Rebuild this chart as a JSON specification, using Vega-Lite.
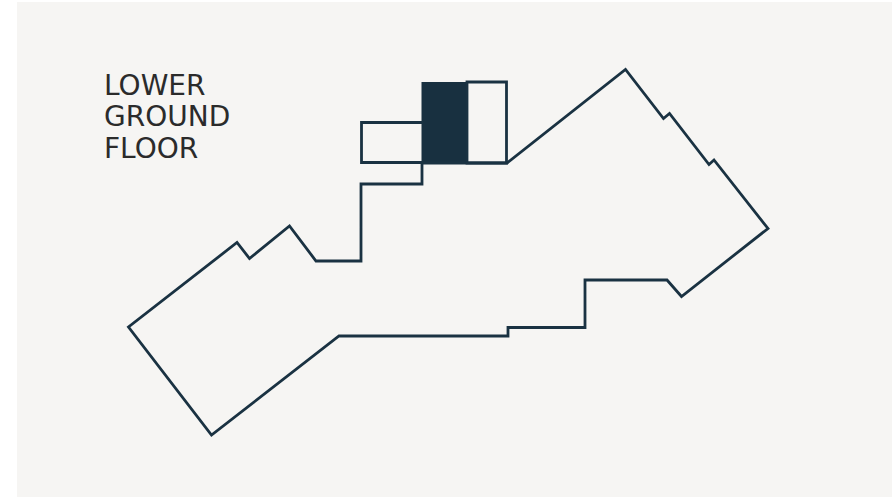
{"$schema":"https://vega.github.io/schema/vega-lite/v6.json","width":892,"height":497,"autosize":{"type":"fit","contains":"padding"},"padding":0,"background":"#ffffff","view":{"stroke":null},
"config":{"axis":{"disable":true}},
"layer":[
{"data":{"values":[{"x0":17,"x1":892,"y0":2,"y1":497}]},"mark":{"type":"rect","color":"#f6f5f3"},"encoding":{"x":{"field":"x0","type":"quantitative","scale":{"domain":[0,892],"nice":false,"zero":false},"axis":null},"x2":{"field":"x1"},"y":{"field":"y0","type":"quantitative","scale":{"domain":[497,0],"nice":false,"zero":false},"axis":null},"y2":{"field":"y1"}}},
{"data":{"values":[{"x0":421.5,"x1":467,"y0":82,"y1":164}]},"mark":{"type":"rect","color":"#183040"},"encoding":{"x":{"field":"x0","type":"quantitative","axis":null},"x2":{"field":"x1"},"y":{"field":"y0","type":"quantitative","axis":null},"y2":{"field":"y1"}}},
{"data":{"values":[
{"s":"outline","i":0,"x":422,"y":163},{"s":"outline","i":1,"x":422,"y":184},{"s":"outline","i":2,"x":361,"y":184},{"s":"outline","i":3,"x":361,"y":261},{"s":"outline","i":4,"x":316,"y":261},{"s":"outline","i":5,"x":289.5,"y":226},{"s":"outline","i":6,"x":249.5,"y":258.5},{"s":"outline","i":7,"x":237,"y":242.5},{"s":"outline","i":8,"x":128.5,"y":327},{"s":"outline","i":9,"x":211.5,"y":435},{"s":"outline","i":10,"x":339,"y":336},{"s":"outline","i":11,"x":508,"y":336},{"s":"outline","i":12,"x":508,"y":327.5},{"s":"outline","i":13,"x":585,"y":327.5},{"s":"outline","i":14,"x":585,"y":280},{"s":"outline","i":15,"x":667,"y":280},{"s":"outline","i":16,"x":681.5,"y":296.5},{"s":"outline","i":17,"x":768,"y":228.5},{"s":"outline","i":18,"x":714,"y":160},{"s":"outline","i":19,"x":709,"y":164.5},{"s":"outline","i":20,"x":669.5,"y":113.5},{"s":"outline","i":21,"x":663.5,"y":118.5},{"s":"outline","i":22,"x":625.5,"y":69.5},{"s":"outline","i":23,"x":507,"y":163},{"s":"outline","i":24,"x":422,"y":163},
{"s":"right","i":0,"x":467,"y":82},{"s":"right","i":1,"x":506.5,"y":82},{"s":"right","i":2,"x":506.5,"y":163},{"s":"right","i":3,"x":467,"y":163},{"s":"right","i":4,"x":467,"y":82},
{"s":"left","i":0,"x":422,"y":122.5},{"s":"left","i":1,"x":361.5,"y":122.5},{"s":"left","i":2,"x":361.5,"y":162.5},{"s":"left","i":3,"x":422,"y":162.5}
]},"mark":{"type":"line","stroke":"#1a3242","strokeWidth":2.8,"strokeJoin":"miter","strokeCap":"square","interpolate":"linear"},"encoding":{"x":{"field":"x","type":"quantitative","axis":null},"y":{"field":"y","type":"quantitative","axis":null},"detail":{"field":"s"},"order":{"field":"i","type":"quantitative"}}},
{"data":{"values":[{"t":"LOWER","x":104,"y":94.5},{"t":"GROUND","x":104,"y":126},{"t":"FLOOR","x":104,"y":157.5}]},"mark":{"type":"text","align":"left","baseline":"alphabetic","font":"DejaVu Sans ExtraLight, DejaVu Sans","fontSize":28,"color":"#2b2b2b"},"encoding":{"x":{"field":"x","type":"quantitative","axis":null},"y":{"field":"y","type":"quantitative","axis":null},"text":{"field":"t"}}}
]}
